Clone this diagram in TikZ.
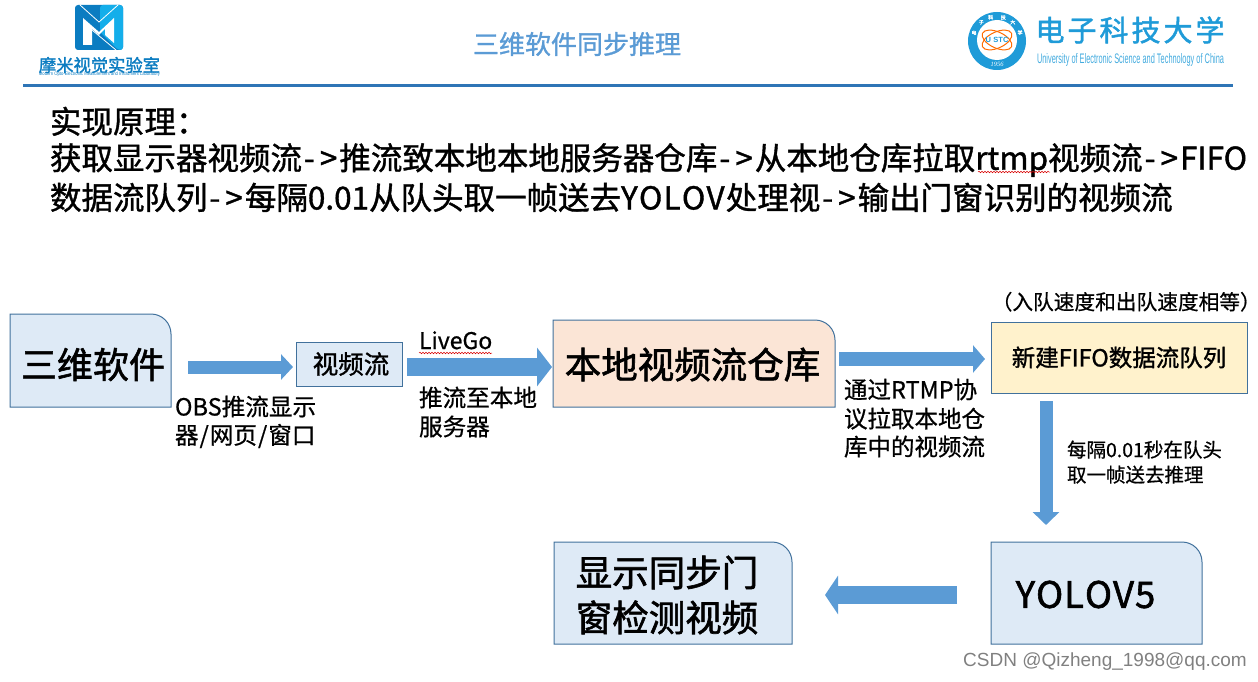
\documentclass[tikz,border=0pt]{standalone}
\usepackage{fontspec}
\usepackage{graphicx}
\setmainfont{Noto Sans CJK SC}[FakeBold=0.7]
\newfontfamily\strongf{Noto Sans CJK SC}[FakeBold=1.6]
\newfontfamily\midf{Noto Sans CJK SC}[FakeBold=1.2]
\newfontfamily\haltf{Noto Sans CJK SC}[FakeBold=0.7,RawFeature={+halt}]
\newfontfamily\latinf{Liberation Sans}
\newfontfamily\serifl{Liberation Serif}
\usetikzlibrary{arrows.meta,backgrounds,decorations.pathmorphing}
\definecolor{flow}{HTML}{5B9BD5}
\definecolor{edge}{HTML}{41719C}
\definecolor{pale}{HTML}{DEEAF6}
\definecolor{peach}{HTML}{FBE5D6}
\definecolor{cream}{HTML}{FFF2CC}
\definecolor{rulec}{HTML}{2E75B6}
\definecolor{logod}{HTML}{0B7CC1}
\definecolor{logol}{HTML}{14AEEA}
\definecolor{ustc}{HTML}{1F9BD8}
\newcommand{\fs}[2]{\fontsize{#1}{#2}\selectfont}
\newcommand{\arr}{\kern2pt-\kern5pt>\kern2pt}
\newcommand{\dropbox}[2]{\raisebox{-#1}[.88em][.12em]{#2}}
\tikzset{
  boxshape/.style={inner sep=0pt,outer sep=0pt,align=center,text=black},
  plainbox/.style={boxshape,draw=edge,line width=1pt},
  cornerline/.style={draw=edge,line width=1pt},
  lbl/.style={anchor=west,inner sep=0pt,outer sep=0pt,text=black,execute at begin node={\rule[-.12em]{0pt}{.94em}}},
  flowarrow/.style={draw=flow,line cap=butt},
  headline/.style={lbl,font=\midf\fs{31.5}{36}},
  wavy/.style={draw=red!85!black,line width=.5pt,decorate,decoration={snake,amplitude=.8pt,segment length=3pt}}
}
\begin{document}
\begin{tikzpicture}[x=1pt,y=-1pt]
\useasboundingbox (0,0) rectangle (1258,682);

% left logo
\fill[logod,rounded corners=3pt] (75,5) rectangle (123,50);
\fill[logol,rounded corners=3pt] (100,5) -- (123,5) -- (123,50) -- (118,50) -- (100,32) -- cycle;
\fill[white] (83,18) -- (99,32) -- (114,18) -- (114,43) -- (105,35) -- (105,29) -- (99,35) -- (92,29) -- (92,45) -- (83,45) -- cycle;
\draw[white,line width=.8pt] (80,5) -- (99,22) -- (118,5);
\draw[white,line width=.8pt] (92,30) -- (116,50);
\node[inner sep=0pt,text=logod] (lab) at (99.5,65) {\strongf\fs{17.3}{18}摩米视觉实验室};
\node[inner sep=0pt,text=logod] (labe) at (99.5,74) {\resizebox{121pt}{3.6pt}{\latinf Modern Opto-Electronic Measurement and Instrument Laboratory}};

% title
\node[inner sep=0pt,text=flow] (title) at (577,44) {\midf\fs{26}{30}三维软件同步推理};

% right logo
\fill[ustc] (997,41) circle[radius=29];
\fill[white] (997,40) circle[radius=20];
\foreach \a in {25,-25}{\draw[orange!85!red,line width=1pt,rotate around={\a:(997,40)}] (997,40) ellipse[x radius=16,y radius=8];}
\node[inner sep=0pt,text=ustc] (ue) at (997,40) {\latinf\bfseries\fs{7.5}{8}U\,\,STC};
\foreach \a/\c in {160/电,130/子,105/科,75/技,50/大,20/学}{\node[inner sep=0pt,text=white] at ({997+24.5*cos(\a)},{41-24.5*sin(\a)}) {\strongf\fs{5}{5}\c};}
\node[inner sep=0pt,text=white] (yr) at (997,64) {\serifl\itshape\fs{6.5}{7}1956};
\node[inner sep=0pt,text=ustc,anchor=center] (uname) at (1130,30) {\strongf\fs{29}{30}电\hspace{3pt}子\hspace{3pt}科\hspace{3pt}技\hspace{3pt}大\hspace{3pt}学};
\node[inner sep=0pt,text=ustc!85] (ueng) at (1130.5,60) {\resizebox{187pt}{10pt}{\latinf University of Electronic Science and Technology of China}};

% rule
\draw[rulec,line width=3.5pt] (23,85.5) -- (1233,85.5);

% headline
\node[headline] (h1) at (50,122) {实现原理：};
\node[headline] (h2) at (50,160) {获取显示器视频流\arr 推流致本地本地服务器仓库\arr 从本地仓库拉取rtmp视频流\arr FIFO};
\node[headline] (h3) at (50,198) {数据流队列\arr 每隔0.01从队头取一帧送去Y\kern1.2pt O\kern1.2pt L\kern1.2pt O\kern1.2pt V\kern1.2pt 处理视\arr 输出门窗识别的视频流};
\draw[wavy] (978,172) -- (1050,172);

% boxes
\node[boxshape,minimum width=161pt,minimum height=93pt,font=\strongf\fs{36}{40}] (soft) at (90.5,360.5) {\hspace*{5pt}\dropbox{4pt}{三维软件}};
\node[plainbox,fill=pale,minimum width=106pt,minimum height=44pt,font=\midf\fs{25.5}{28}] (stream) at (349,364) {\hspace*{4pt}视频流};
\node[boxshape,minimum width=282pt,minimum height=87pt,font=\strongf\fs{36.5}{40}] (repo) at (694,363.5) {\hspace*{-3pt}\dropbox{1pt}{本地视频流仓库}};
\node[plainbox,fill=cream,minimum width=256pt,minimum height=71pt,font=\midf\fs{23.5}{28}] (fifo) at (1119,357.5) {新建FIFO数据流队列};
\node[boxshape,minimum width=211pt,minimum height=102pt,font=\strongf\fs{36.5}{40}] (yolo) at (1096.5,593) {\dropbox{1pt}{Y\kern1pt O\kern1pt L\kern1pt O\kern1pt V\kern1pt 5}\hspace*{22pt}};
\node[boxshape,minimum width=238pt,minimum height=102pt,align=left,font=\strongf\fs{36.5}{45}] (show) at (673,595) {显示同步门\hspace*{2pt}\\窗检测视频\hspace*{12pt}};

\begin{scope}[on background layer]
\path[cornerline,fill=pale] ([yshift=2pt]show.south west) -- ([yshift=2pt]show.north west) -- ([shift={(-20pt,2pt)}]show.north east) arc[start angle=90,end angle=0,radius=20pt] -- ([yshift=2pt]show.south east) -- cycle;
\foreach \n/\f in {soft/pale,repo/peach,yolo/pale}{
  \path[cornerline,fill=\f] (\n.south west) -- (\n.north west) -- ([xshift=-20pt]\n.north east) arc[start angle=90,end angle=0,radius=20pt] -- (\n.south east) -- cycle;
}
\end{scope}

% arrows
\draw[flowarrow,line width=13pt,-{Triangle[length=12pt,width=25pt]}] ([shift={(17,6.5)}]soft.east) -- ([shift={(-3,3)}]stream.west);
\draw[flowarrow,line width=18pt,-{Triangle[length=15pt,width=38pt]}] ([shift={(5,3)}]stream.east) -- ([shift={(-1,3.5)}]repo.west);
\draw[flowarrow,line width=14pt,-{Triangle[length=12pt,width=27pt]}] ([shift={(4,-4.5)}]repo.east) -- ([shift={(-6,1.5)}]fifo.west);
\draw[flowarrow,line width=13pt,-{Triangle[length=13pt,width=26pt]}] ([shift={(-73,8)}]fifo.south) -- ([shift={(-50.5,-17)}]yolo.north);
\draw[flowarrow,line width=18pt,-{Triangle[length=13pt,width=38pt]}] ([shift={(-34,2)}]yolo.west) -- ([shift={(33,0)}]show.east);

% labels
\node[lbl,font=\fs{23.6}{26}] (l1) at (175,407) {OBS推流显示};
\node[lbl,font=\fs{23.6}{26}] (l2) at (175,436) {器\kern1pt/\kern1pt 网页\kern1pt/\kern1pt 窗口};
\node[lbl,font=\fs{23}{26}] (l3) at (419,341) {LiveGo};
\draw[wavy] (419,353) -- (492,353);
\node[lbl,font=\fs{23.6}{26}] (l4) at (419,398) {推流至本地};
\node[lbl,font=\fs{23.6}{26}] (l5) at (419,427) {服务器};
\node[lbl,font=\fs{23.5}{26}] (l6) at (844,390) {通过RTMP协};
\node[lbl,font=\fs{23.5}{26}] (l7) at (844,419) {议拉取本地仓};
\node[lbl,font=\fs{23.5}{26}] (l8) at (844,447) {库中的视频流};
\node[lbl,font=\haltf\fs{20.7}{24}] (l9) at (1002,302) {（入队速度和出队速度相等）};
\node[lbl,font=\fs{19.5}{24}] (l10) at (1067,450) {每隔0.01秒在队头};
\node[lbl,font=\fs{19.5}{24}] (l11) at (1067,475) {取一帧送去推理};

% watermark
\node[inner sep=0pt,anchor=west,text=black!50] (wm) at (963,662) {\latinf\fs{19}{22}CSDN @Qizheng\_1998@qq.com};
\end{tikzpicture}
\end{document}
